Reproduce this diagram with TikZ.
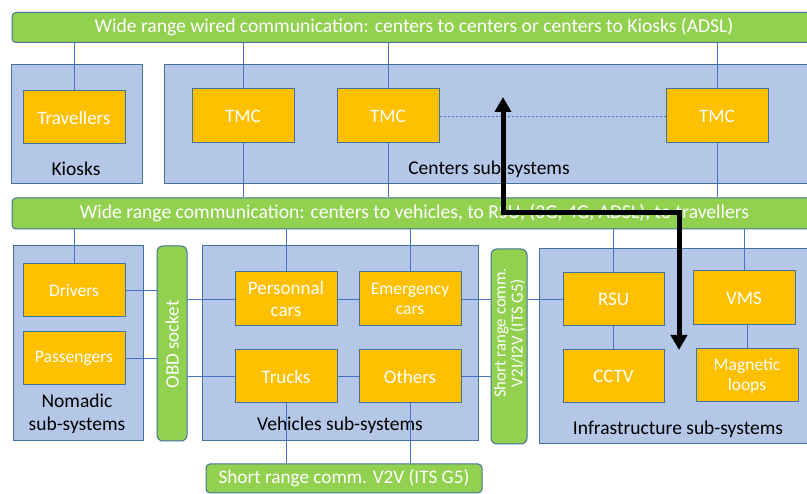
\documentclass[tikz,border=0pt]{standalone}
\usepackage{fontspec}
\setmainfont{Carlito}
\usetikzlibrary{arrows.meta}
\definecolor{boxblue}{HTML}{B4C7E7}
\definecolor{edgeblue}{HTML}{41719C}
\definecolor{lineblue}{HTML}{4472C4}
\definecolor{orng}{HTML}{FFC000}
\definecolor{grn}{HTML}{92D050}
\tikzset{
  cont/.style={draw=edgeblue, fill=boxblue, line width=1pt, inner sep=0pt},
  unit/.style={draw=edgeblue, fill=orng, line width=1pt, inner sep=0pt, text=white, align=center,
    font=\fontsize{19}{22}\selectfont, minimum width=102pt, minimum height=53pt},
  smallunit/.style={unit, font=\fontsize{17.5}{20}\selectfont},
  bar/.style={draw=edgeblue, fill=grn, line width=1pt, rounded corners=4pt, inner sep=0pt, text=white,
    font=\fontsize{19.6}{22}\selectfont, align=center},
  lbl/.style={text=black, font=\fontsize{19.5}{23}\selectfont, align=center, inner sep=0pt},
  link/.style={draw=lineblue, line width=0.9pt},
  dotlink/.style={draw=lineblue, line width=0.9pt, dash pattern=on 2pt off 2pt},
  flow/.style={draw=black, line width=5pt, {Triangle[length=15pt,width=16pt]}-{Triangle[length=15pt,width=16pt]}}
}
\begin{document}
\begin{tikzpicture}[x=1pt, y=-1pt]
\useasboundingbox (0,0) rectangle (807,494);
\begin{scope}
\clip (0,0) rectangle (807,494);
% containers
\node[cont, minimum width=131pt, minimum height=119pt] (kiosk) at (76.5,124.5) {};
\node[cont, minimum width=666pt, minimum height=119pt] (centers) at (497,124.5) {};
\node[cont, minimum width=130pt, minimum height=195pt] (nomadic) at (78,343.5) {};
\node[cont, minimum width=276pt, minimum height=195pt] (vehicles) at (340,343.5) {};
\node[cont, minimum width=291pt, minimum height=195pt] (infra) at (684.5,346.5) {};
% bars
\node[bar, minimum width=804pt, minimum height=30pt] (topbar) at (414,27.5) {Wide range wired communication: centers to centers or centers to Kiosks (ADSL)};
\node[bar, minimum width=805pt, minimum height=31pt] (midbar) at (414.5,213.5) {Wide range communication: centers to vehicles, to RSU, (3G, 4G, ADSL), to travellers};
\node[bar, minimum width=30pt, minimum height=195pt, rounded corners=6pt] (obd) at (172,343.5) {};
\node[text=white, rotate=90, font=\fontsize{19}{22}\selectfont, inner sep=0pt] (obdtext) at (172,344.5) {OBD socket};
\node[bar, minimum width=36pt, minimum height=195pt, rounded corners=6pt] (v2i) at (509,346.5) {};
\node[text=white, rotate=90, font=\fontsize{16.8}{17}\selectfont, align=center, inner sep=0pt] (v2itext) at (509.5,333) {Short range comm.\\V2I/I2V (ITS G5)};
\node[bar, minimum width=276pt, minimum height=29pt, font=\fontsize{19.2}{22}\selectfont] (v2v) at (344,478.5) {Short range comm. V2V (ITS G5)};
% units
\node[unit] (trav) at (74,117.5) {Travellers};
\node[unit, minimum height=54pt] (tmc1) at (243,116) {TMC};
\node[unit, minimum height=54pt] (tmc2) at (388,116) {TMC};
\node[unit, minimum height=54pt] (tmc3) at (717,116) {TMC};
\node[smallunit] (drivers) at (74,290.5) {Drivers};
\node[smallunit] (pass) at (74,358.5) {Passengers};
\node[unit, minimum height=54pt, font=\fontsize{19}{22}\selectfont] (pers) at (286,299) {Personnal\\cars};
\node[smallunit, minimum height=54pt] (emerg) at (410,299) {Emergency\\cars};
\node[unit] (trucks) at (286,376.5) {Trucks};
\node[unit] (others) at (410,376.5) {Others};
\node[unit, minimum width=101pt] (rsu) at (613.5,299.5) {RSU};
\node[unit, minimum width=101pt] (cctv) at (613.5,376.5) {CCTV};
\node[unit, minimum height=54pt] (vms) at (744,298) {VMS};
\node[smallunit] (mag) at (747,375.5) {Magnetic\\loops};
% container labels
\node[lbl] (kiosklbl) at (76,169) {Kiosks};
\node[lbl] (centerslbl) at (489,169) {Centers sub-systems};
\node[lbl] (nomadiclbl) at (77,414) {Nomadic\\sub-systems};
\node[lbl] (vehicleslbl) at (340,425) {Vehicles sub-systems};
\node[lbl] (infralbl) at (678,429) {Infrastructure sub-systems};
% connectors
\draw[link] (topbar.south -| trav) -- (trav.north);
\draw[link] (topbar.south -| tmc1) -- (tmc1.north);
\draw[link] (topbar.south -| tmc2) -- (tmc2.north);
\draw[link] (topbar.south -| tmc3) -- (tmc3.north);
\draw[link] (tmc1.south) -- (midbar.north -| tmc1);
\draw[link] (tmc2.south) -- (midbar.north -| tmc2);
\draw[link] (tmc3.south) -- (midbar.north -| tmc3);
\draw[dotlink] (tmc2.east) -- (tmc3.west);
\draw[link] (midbar.south -| drivers) -- (drivers.north);
\draw[link] (drivers.east) -- (obd.west |- drivers);
\draw[link] (pass.east) -- (obd.west |- pass);
\draw[link] (obd.east |- pers) -- (pers.west);
\draw[link] (obd.east |- trucks) -- (trucks.west);
\draw[link] (midbar.south -| pers) -- (pers.north);
\draw[link] (midbar.south -| emerg) -- (emerg.north);
\draw[link] (pers.east) -- (emerg.west);
\draw[link] (trucks.east) -- (others.west);
\draw[link] (emerg.east) -- (v2i.west |- emerg);
\draw[link] (others.east) -- (v2i.west |- others);
\draw[link] (v2i.east |- rsu) -- (rsu.west);
\draw[link] (midbar.south -| rsu) -- (rsu.north);
\draw[link] (rsu.south) -- (cctv.north);
\draw[link] (midbar.south -| vms) -- (vms.north);
\draw[link] (vms.south -| mag) -- (mag.north);
\draw[link] (trucks.south) -- (v2v.north -| trucks);
\draw[link] (others.south) -- (v2v.north -| others);
% flow arrow
\coordinate (flowtop) at (503,97);
\coordinate (flowbendA) at (503,213);
\coordinate (flowbendB) at (679,213);
\coordinate (flowend) at (679,350);
\draw[flow] (flowtop) -- (flowbendA) -- (flowbendB) -- (flowend);
\end{scope}
\end{tikzpicture}
\end{document}
